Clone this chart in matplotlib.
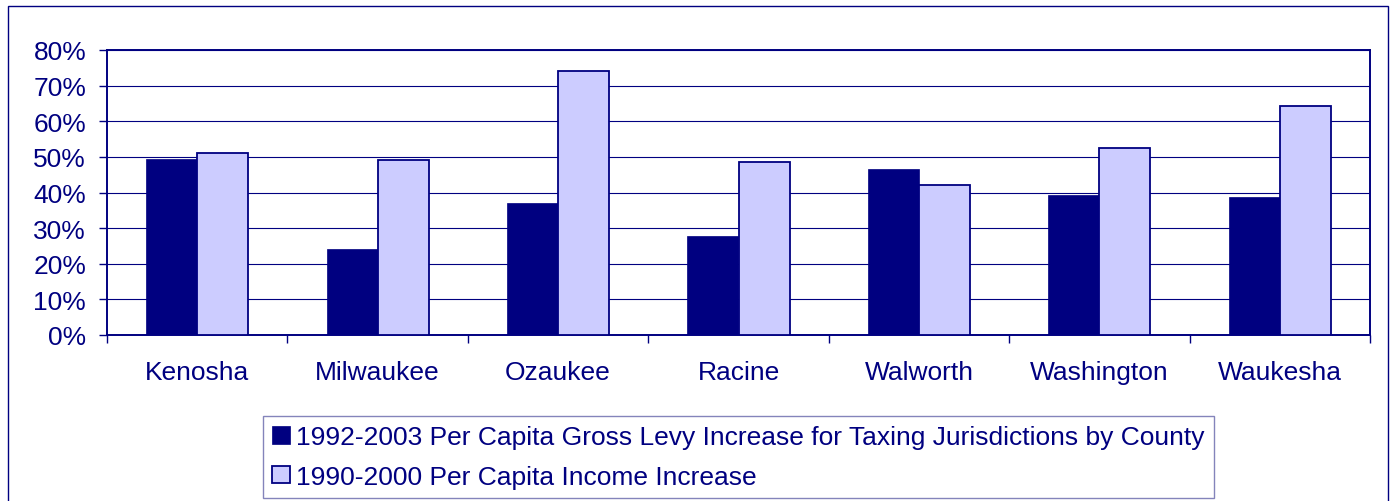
import numpy as np
import matplotlib.pyplot as plt
from matplotlib.patches import Rectangle

counties = ["Kenosha", "Milwaukee", "Ozaukee", "Racine", "Walworth", "Washington", "Waukesha"]
levy_increase = [49.3, 24.1, 37.0, 27.7, 46.5, 39.2, 38.6]
income_increase = [51.1, 49.0, 74.0, 48.7, 42.0, 52.4, 64.2]
series_names = ["1992-2003 Per Capita Gross Levy Increase for Taxing Jurisdictions by County",
                "1990-2000 Per Capita Income Increase"]
y_ticks = [0, 10, 20, 30, 40, 50, 60, 70, 80]

navy = "#000080"
lilac = "#ccccff"

plt.rcParams['font.family'] = ['Liberation Sans', 'DejaVu Sans']

W, H = 1392, 502
fig = plt.figure(figsize=(W / 100, H / 100), dpi=100)

# outer chart border
fig.patches.append(Rectangle((8 / W, -0.01), (1388 - 8) / W, 1 - 7 / H + 0.01,
                             transform=fig.transFigure, fill=False,
                             edgecolor=navy, linewidth=1.0))

ax = fig.add_axes([107 / W, 1 - 336 / H, (1370 - 107) / W, (336 - 51) / H])

x = np.arange(len(counties))
bw = 0.283
ax.bar(x - bw / 2, levy_increase, bw, color=navy, edgecolor=navy, linewidth=0.5,
       label=series_names[0], zorder=3)
ax.bar(x + bw / 2, income_increase, bw, color=lilac, edgecolor=navy, linewidth=1.3,
       label=series_names[1], zorder=3)

ax.set_xlim(-0.5, len(counties) - 0.5)
ax.set_ylim(0, 80)
ax.set_yticks(y_ticks)
ax.set_yticklabels([f"{v}%" for v in y_ticks])
ax.yaxis.grid(True, color=navy, linewidth=0.8, zorder=0)
ax.set_axisbelow(True)

ax.set_xticks(x)
ax.set_xticklabels(counties)
ax.set_xticks(np.arange(len(counties) + 1) - 0.5, minor=True)
ax.tick_params(axis='x', which='major', length=0, pad=18, labelsize=19, labelcolor=navy)
ax.tick_params(axis='x', which='minor', length=6, width=1, color=navy, direction='out')
ax.tick_params(axis='y', length=6, width=1, color=navy, pad=9, labelsize=19, labelcolor=navy)

for s in ax.spines.values():
    s.set_color(navy)
    s.set_linewidth(1.4)

leg = fig.legend(loc='center', bbox_to_anchor=((262 + 1215) / 2 / W, 1 - 458 / H),
                 fontsize=19, frameon=True, fancybox=False, handlelength=0.65,
                 handleheight=0.65, handletextpad=0.25, labelspacing=0.58,
                 borderpad=0.35, borderaxespad=0)
leg.get_frame().set_edgecolor("#6666aa")
leg.get_frame().set_linewidth(1.0)
for t in leg.get_texts():
    t.set_color(navy)

fig.savefig("out.png", dpi=100)
